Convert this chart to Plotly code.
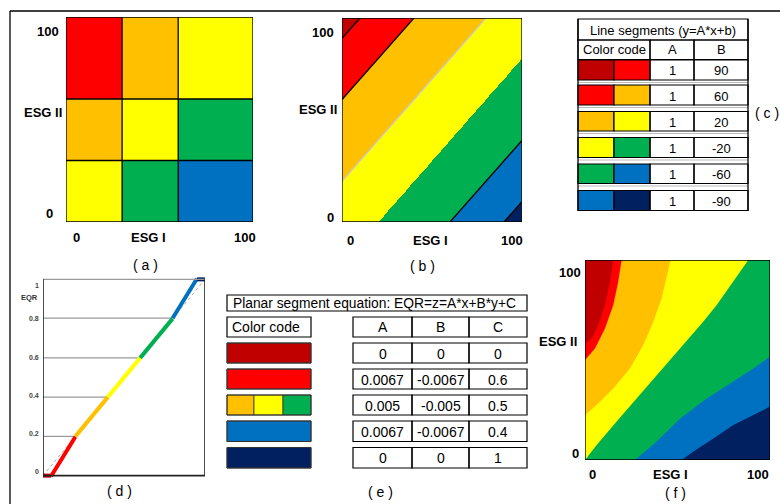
import numpy as np
import plotly.graph_objects as go

W, H = 780, 504

# ---------------- data ----------------
CLASS_COLORS = ["#C00000", "#FF0000", "#FFC000", "#FFFF00", "#00B050", "#0070C0", "#002060"]

# (a) 3x3 grid classes (rows bottom -> top), bin edges of ESG I / ESG II
A_EDGES = [0, 30, 60, 100]
A_CLASSES = [[3, 4, 5],
             [2, 3, 4],
             [1, 2, 3]]

# (b)/(c) line segments y = A*x + b
LINE_A = [1, 1, 1, 1, 1, 1]
LINE_B = [90, 60, 20, -20, -60, -90]

# (e) planar segments EQR = A*x + B*y + C
PLANE_A = [0, 0.0067, 0.005, 0.0067, 0]
PLANE_B = [0, -0.0067, -0.005, -0.0067, 0]
PLANE_C = [0, 0.6, 0.5, 0.4, 1]
PLANE_SWATCHES = [[0], [1], [2, 3, 4], [5], [6]]

# (d) EQR along ESG I - ESG II
D_BREAKS = [-100, -90, -60, -20, 20, 60, 90, 100]
D_PLANE = [0, 1, 2, 2, 2, 3, 4]
D_CLASS = [0, 1, 2, 3, 4, 5, 6]
D_TICKS = ["0", "0.2", "0.4", "0.6", "0.8", "1"]

# (f) class boundaries (ESG I, ESG II)
F_B1_X = [52.3, 58.6, 69.4, 80.2, 91.0, 100]          # navy | blue
F_B1_Y = [0, 4.2, 10.8, 17.5, 22.5, 26.7]
F_B2_X = [27.0, 38.7, 51.4, 65.8, 78.4, 91.0, 100]    # blue | green
F_B2_Y = [0, 9.2, 20.8, 30.8, 38.3, 45.8, 51.7]
F_B3_X = [0, 6.3, 17.1, 29.7, 42.3, 53.1, 64.0, 71.2, 80.2, 88.3]  # green | yellow
F_B3_Y = [0, 7.5, 19.2, 32.5, 45.8, 57.5, 69.2, 77.5, 89.2, 100]
F_B4_X = [0, 6.3, 15.3, 24.3, 31.5, 37.0, 41.4, 44.5, 46.3]        # yellow | orange
F_B4_Y = [22.5, 27.5, 35.8, 45.8, 57.5, 69.2, 80.8, 92.5, 100]
F_B5_X = [0, 5.4, 10.8, 15.3, 18.0, 19.8]              # orange | red
F_B5_Y = [50.0, 55.8, 65.8, 77.5, 89.2, 100]
F_B6_X = [0, 3.6, 7.2, 10.8, 13.5, 15.3]               # red | dark red
F_B6_Y = [58.3, 60.8, 67.5, 77.5, 89.2, 100]

# ---------------- helpers ----------------
def X(px):
    return px / W

def Y(py):
    return 1 - py / H

shapes = []
annotations = []
FONT = "Liberation Sans"

def rect(x0, y0, x1, y1, fill=None, lc="black", lw=1.2):
    shapes.append(dict(type="rect", xref="paper", yref="paper",
                       x0=X(x0), x1=X(x1), y0=Y(y1), y1=Y(y0),
                       fillcolor=fill if fill else "rgba(0,0,0,0)",
                       line=dict(color=lc, width=lw), layer="above"))

def pline(x0, y0, x1, y1, lc="black", lw=1.2):
    shapes.append(dict(type="line", xref="paper", yref="paper",
                       x0=X(x0), x1=X(x1), y0=Y(y0), y1=Y(y1),
                       line=dict(color=lc, width=lw), layer="above"))

def text(s, px, py, size=13, bold=False, color="black", xanchor="center", family=FONT):
    annotations.append(dict(text=f"<b>{s}</b>" if bold else s, x=X(px), y=Y(py),
                            xref="paper", yref="paper", showarrow=False,
                            xanchor=xanchor, yanchor="middle",
                            font=dict(size=size, color=color, family=family)))

def disc_scale(colors):
    n = len(colors)
    sc = []
    for i, c in enumerate(colors):
        sc.append([i / n, c])
        sc.append([(i + 1) / n, c])
    return sc

SCALE = disc_scale(CLASS_COLORS)

fig = go.Figure()

# global frame
pline(10, 11, 780, 11, lw=1.3)
pline(10, 11, 10, 504, lw=1.3)

# ---------------- (a) ----------------
fig.add_trace(go.Heatmap(x=A_EDGES, y=A_EDGES, z=A_CLASSES, colorscale=SCALE,
                         zmin=-0.5, zmax=6.5, showscale=False, hoverinfo="skip",
                         xaxis="x", yaxis="y"))
for v in A_EDGES[1:-1]:
    shapes.append(dict(type="line", xref="x", yref="y", x0=v, x1=v, y0=0, y1=100,
                       line=dict(color="black", width=1.3)))
    shapes.append(dict(type="line", xref="x", yref="y", x0=0, x1=100, y0=v, y1=v,
                       line=dict(color="black", width=1.3)))
shapes.append(dict(type="rect", xref="x", yref="y", x0=0, x1=100, y0=0, y1=100,
                   line=dict(color="black", width=1.3)))
text("100", 47.5, 31, bold=True)
text("ESG II", 43, 113, bold=True)
text("0", 50, 213, bold=True)
text("0", 76, 237, bold=True)
text("ESG I", 148, 237, bold=True)
text("100", 244.5, 237, bold=True)
text("( a )", 145, 265, size=14)

# ---------------- (b) ----------------
gx = np.linspace(0, 100, 401)
gy = np.linspace(0, 100, 401)
XX, YY = np.meshgrid(gx, gy)
DD = YY - XX
ZB = np.zeros_like(DD, dtype=int)
for a, b in zip(LINE_A, LINE_B):
    ZB += (b > DD).astype(int)
fig.add_trace(go.Heatmap(x=gx, y=gy, z=ZB, colorscale=SCALE, zmin=-0.5, zmax=6.5,
                         showscale=False, hoverinfo="skip", xaxis="x2", yaxis="y2"))
B_LINE_STYLE = ["#000000", "#000000", "#C8C8C8", None, "#000000", "#000000"]
for a, b, c in zip(LINE_A, LINE_B, B_LINE_STYLE):
    if c is None:
        continue
    x0 = max(0, (0 - b) / a)
    x1 = min(100, (100 - b) / a)
    fig.add_trace(go.Scatter(x=[x0, x1], y=[a * x0 + b, a * x1 + b], mode="lines",
                             line=dict(color=c, width=1.3), hoverinfo="skip",
                             showlegend=False, xaxis="x2", yaxis="y2"))
shapes.append(dict(type="rect", xref="x2", yref="y2", x0=0, x1=100, y0=0, y1=100,
                   line=dict(color="black", width=1.3)))
text("100", 323, 33, bold=True)
text("ESG II", 318, 109, bold=True)
text("0", 330, 217, bold=True)
text("0", 350, 240, bold=True)
text("ESG I", 430, 240, bold=True)
text("100", 512, 240, bold=True)
text("( b )", 422, 266, size=14)

# ---------------- (c) table ----------------
CX0, CX1, CX2, CX3, CX4 = 578, 614, 650, 694, 748
rect(CX0, 19, CX4, 40)
text("Line segments (y=A*x+b)", (CX0 + CX4) / 2, 30, size=13)
rect(CX0, 40, CX2, 59.5)
rect(CX2, 40, CX3, 59.5)
rect(CX3, 40, CX4, 59.5)
text("Color code", (CX0 + CX2) / 2, 50, size=13)
text("A", (CX2 + CX3) / 2, 50, size=13)
text("B", (CX3 + CX4) / 2, 50, size=13)
C_ROWS = [(60, 80), (85, 105), (111.5, 131), (137.5, 157.5), (164, 183.5), (190.5, 210.5)]
for i, (ry0, ry1) in enumerate(C_ROWS):
    rect(CX0, ry0, CX1, ry1, fill=CLASS_COLORS[i])
    rect(CX1, ry0, CX2, ry1, fill=CLASS_COLORS[i + 1])
    rect(CX2, ry0, CX3, ry1)
    rect(CX3, ry0, CX4, ry1)
    text(f"{LINE_A[i]:g}", (CX2 + CX3) / 2, (ry0 + ry1) / 2 + 1, size=13)
    text(f"{LINE_B[i]:g}", (CX3 + CX4) / 2, (ry0 + ry1) / 2 + 1, size=13)
    if i > 0:
        pline(CX0, C_ROWS[i - 1][1] + 2.5, CX4, C_ROWS[i - 1][1] + 2.5, lc="#BBBBBB", lw=1)
pline(CX0, 19, CX0, 211, lw=1.3)
pline(CX4, 19, CX4, 211, lw=1.3)
text("( c )", 767, 113, size=14)

# ---------------- (d) ----------------
def eqr(d, p):
    x = max(d, 0)
    y = max(-d, 0)
    return PLANE_A[p] * x + PLANE_B[p] * y + PLANE_C[p]

fig.add_trace(go.Scatter(x=[D_BREAKS[0], D_BREAKS[-1]], y=[0, 1], mode="lines",
                         line=dict(color="#AAAAAA", width=1, dash="dot"),
                         hoverinfo="skip", showlegend=False, xaxis="x3", yaxis="y3"))
for k in range(2, 6):
    d = D_BREAKS[k]
    v = eqr(d, D_PLANE[k])
    fig.add_trace(go.Scatter(x=[D_BREAKS[0], d], y=[v, v], mode="lines",
                             line=dict(color="#9A9A9A", width=1.2),
                             hoverinfo="skip", showlegend=False, xaxis="x3", yaxis="y3"))
for i in range(len(D_PLANE)):
    d0, d1 = D_BREAKS[i], D_BREAKS[i + 1]
    p = D_PLANE[i]
    fig.add_trace(go.Scatter(x=[d0, d1], y=[eqr(d0, p), eqr(d1, p)], mode="lines",
                             line=dict(color=CLASS_COLORS[D_CLASS[i]], width=4),
                             hoverinfo="skip", showlegend=False, xaxis="x3", yaxis="y3"))
shapes.append(dict(type="line", xref="x3", yref="y3", x0=-100, x1=100, y0=1, y1=1,
                   line=dict(color="#9A9A9A", width=1.3)))
shapes.append(dict(type="path", xref="x3", yref="y3",
                   path="M -100,1 L -100,0 L 100,0 L 100,1",
                   line=dict(color="#222222", width=1.6)))
D_TICK_Y = [471, 433, 395, 357, 318, 285]
for t, ty in zip(D_TICKS, D_TICK_Y):
    text(t, 41, ty, size=7, bold=True, color="#444444", xanchor="right")
text("EQR", 40, 297, size=7.5, bold=True, color="#333333", xanchor="right")
text("( d )", 119, 491, size=14)

# ---------------- (e) table ----------------
rect(227, 295, 527, 311)
text("Planar segment equation: EQR=z=A*x+B*y+C", 231, 303, size=13.8, xanchor="left")
rect(227, 317, 311, 337)
text("Color code", 230, 327, size=14, xanchor="left")
EX = [353, 412, 469, 527]
for j, h in enumerate(["A", "B", "C"]):
    rect(EX[j], 317, EX[j + 1], 337)
    text(h, (EX[j] + EX[j + 1]) / 2, 327, size=14)
E_ROWS = [(343, 363), (369, 389), (395, 415), (421, 441.5), (447.5, 468)]
for i, (ry0, ry1) in enumerate(E_ROWS):
    sw = PLANE_SWATCHES[i]
    n = len(sw)
    edges = [227, 254, 283, 311] if n == 3 else [227, 311]
    for k, ci in enumerate(sw):
        rect(edges[k], ry0, edges[k + 1], ry1, fill=CLASS_COLORS[ci], lc="#333333", lw=0.8)
    rect(227, ry0, 311, ry1, lc="#333333", lw=1)
    vals = [PLANE_A[i], PLANE_B[i], PLANE_C[i]]
    for j, v in enumerate(vals):
        rect(EX[j], ry0, EX[j + 1], ry1)
        text(f"{v:g}", (EX[j] + EX[j + 1]) / 2, (ry0 + ry1) / 2 + 0.5, size=14)
text("( e )", 380, 492, size=14)

# ---------------- (f) ----------------
fig.add_trace(go.Scatter(x=[0, 100, 100, 0], y=[0, 0, 100, 100], fill="toself",
                         fillcolor=CLASS_COLORS[6], mode="lines", line=dict(width=0),
                         hoverinfo="skip", showlegend=False, xaxis="x4", yaxis="y4"))
F_BOUNDS = [(F_B1_X, F_B1_Y, 5), (F_B2_X, F_B2_Y, 4), (F_B3_X, F_B3_Y, 3),
            (F_B4_X, F_B4_Y, 2), (F_B5_X, F_B5_Y, 1), (F_B6_X, F_B6_Y, 0)]
for bx, by, ci in F_BOUNDS:
    fig.add_trace(go.Scatter(x=list(bx) + [100, 0, 0], y=list(by) + [100, 100, 0],
                             fill="toself", fillcolor=CLASS_COLORS[ci], mode="lines",
                             line=dict(width=0), hoverinfo="skip", showlegend=False,
                             xaxis="x4", yaxis="y4"))
shapes.append(dict(type="rect", xref="x4", yref="y4", x0=0, x1=100, y0=0, y1=100,
                   line=dict(color="black", width=1.3)))
text("100", 570, 272, bold=True)
text("ESG II", 558, 341, bold=True)
text("0", 575.5, 453, bold=True)
text("0", 592, 474, bold=True)
text("ESG I", 670, 474, bold=True)
text("100", 758, 474, bold=True)
text("( f )", 675, 493, size=14)

# ---------------- layout ----------------
def dx(p0, p1):
    return [p0 / W, p1 / W]

def dy(p0, p1):
    return [1 - p1 / H, 1 - p0 / H]

ax = dict(visible=False, fixedrange=True, showgrid=False, zeroline=False)
fig.update_layout(
    width=W, height=H, margin=dict(l=0, r=0, t=0, b=0),
    paper_bgcolor="white", plot_bgcolor="white", showlegend=False,
    xaxis=dict(ax, domain=dx(66, 253), range=[0, 100], anchor="y"),
    yaxis=dict(ax, domain=dy(17, 222), range=[0, 100], anchor="x"),
    xaxis2=dict(ax, domain=dx(342, 522), range=[0, 100], anchor="y2"),
    yaxis2=dict(ax, domain=dy(18, 222), range=[0, 100], anchor="x2"),
    xaxis3=dict(ax, domain=dx(43, 205), range=[-100, 100], anchor="y3"),
    yaxis3=dict(ax, domain=dy(277, 478), range=[-0.012, 1.012], anchor="x3"),
    xaxis4=dict(ax, domain=dx(585, 770), range=[0, 100], anchor="y4"),
    yaxis4=dict(ax, domain=dy(260, 460), range=[0, 100], anchor="x4"),
    shapes=shapes, annotations=annotations,
    font=dict(family=FONT, color="black"),
)

fig.write_html("out.html", config={"displayModeBar": False},
               post_script="document.body.style.margin='0';document.body.style.overflow='hidden';")
